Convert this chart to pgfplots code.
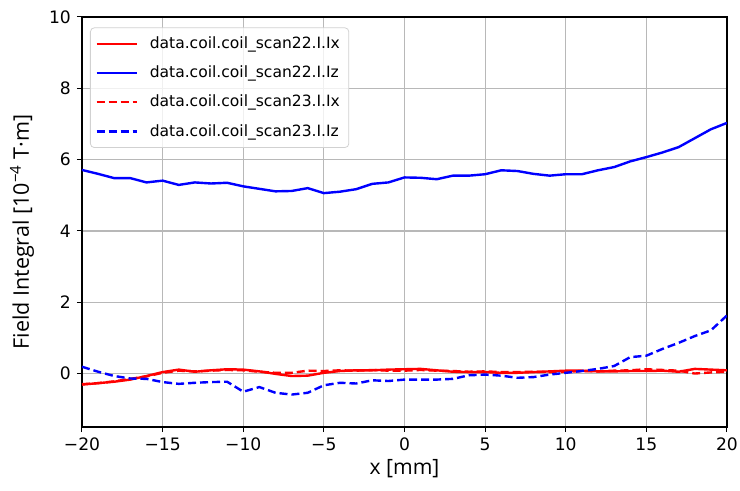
\documentclass[border=0pt]{standalone}
\usepackage{fontspec}
\setmainfont{DejaVu Sans}
\newfontfamily\labelfont{Open Sans}
\usepackage{pgfplots}
\pgfplotsset{compat=1.18}
\begin{document}
\fontsize{8.6}{10}\selectfont
\begin{tikzpicture}
\begin{axis}[
  scale only axis,
  width=322.5bp, height=205bp,
  xmin=-20, xmax=20, ymin=-1.5, ymax=10,
  xtick={-20,-15,...,20},
  xticklabels={−20,−15,−10,−5,0,5,10,15,20},
  ytick={0,2,4,6,8,10},
  /pgf/number format/assume math mode=true,
  tick label style={font=\fontsize{8.6}{10}\selectfont},
  tick align=outside,
  major tick length=2.5bp,
  tick style={black, line width=0.5bp},
  xtick pos=bottom, ytick pos=left,
  grid=major,
  grid style={black!28, line width=0.6bp},
  axis line style={line width=0.6bp},
  xlabel={x [mm]},
  ylabel={Field Integral [10\textsuperscript{−4} T·m]},
  every axis x label/.style={at={(rel axis cs:0.5,0)}, anchor=north, yshift=-13bp, font=\labelfont\fontsize{10.6}{12}\selectfont},
  every axis y label/.style={at={(rel axis cs:0,0.5)}, anchor=center, rotate=90, yshift=30bp, xshift=-5bp, font=\labelfont\fontsize{10.8}{12}\selectfont},
  legend cell align=left,
  legend style={at={(rel axis cs:0,1)}, anchor=north west, xshift=4bp, yshift=-5.2bp,
    draw=black!18, rounded corners=2bp, fill=white, fill opacity=0.8, text opacity=1,
    font=\fontsize{7.8}{9.5}\selectfont, row sep=3.4bp, inner sep=2.5bp},
  legend image code/.code={\draw[#1] (0cm,0cm) -- (20bp,0cm); \path (24bp,0cm);},
]
\addplot[red, line width=1.2bp] coordinates {
(-20,-0.31)(-19,-0.27)(-18,-0.23)(-17,-0.17)(-16,-0.07)(-15,0.04)(-14,0.11)(-13,0.05)(-12,0.09)(-11,0.12)
(-10,0.11)(-9,0.06)(-8,-0.01)(-7,-0.07)(-6,-0.06)(-5,0.02)(-4,0.07)(-3,0.09)(-2,0.09)(-1,0.11)
(0,0.12)(1,0.13)(2,0.09)(3,0.05)(4,0.04)(5,0.04)(6,0.02)(7,0.02)(8,0.04)(9,0.06)
(10,0.08)(11,0.08)(12,0.06)(13,0.06)(14,0.07)(15,0.07)(16,0.08)(17,0.05)(18,0.13)(19,0.11)(20,0.09)};
\addlegendentry{data.coil.coil\_scan22.I.Ix}
\addplot[blue, line width=1.2bp] coordinates {
(-20,5.71)(-19,5.60)(-18,5.48)(-17,5.48)(-16,5.36)(-15,5.41)(-14,5.29)(-13,5.36)(-12,5.33)(-11,5.35)
(-10,5.25)(-9,5.18)(-8,5.11)(-7,5.12)(-6,5.20)(-5,5.06)(-4,5.10)(-3,5.17)(-2,5.32)(-1,5.36)
(0,5.50)(1,5.49)(2,5.45)(3,5.55)(4,5.55)(5,5.59)(6,5.70)(7,5.68)(8,5.60)(9,5.55)
(10,5.59)(11,5.59)(12,5.70)(13,5.79)(14,5.95)(15,6.07)(16,6.20)(17,6.35)(18,6.60)(19,6.85)(20,7.03)};
\addlegendentry{data.coil.coil\_scan22.I.Iz}
\addplot[red, line width=1.2bp, dash pattern=on 4bp off 2bp] coordinates {
(-20,-0.30)(-19,-0.27)(-18,-0.22)(-17,-0.15)(-16,-0.08)(-15,0.02)(-14,0.08)(-13,0.06)(-12,0.08)(-11,0.10)
(-10,0.09)(-9,0.05)(-8,0.02)(-7,0.02)(-6,0.08)(-5,0.07)(-4,0.09)(-3,0.08)(-2,0.10)(-1,0.08)
(0,0.08)(1,0.10)(2,0.08)(3,0.07)(4,0.05)(5,0.06)(6,0.04)(7,0.04)(8,0.05)(9,0.04)
(10,0.05)(11,0.07)(12,0.06)(13,0.08)(14,0.09)(15,0.12)(16,0.10)(17,0.08)(18,0.00)(19,0.03)(20,0.05)};
\addlegendentry{data.coil.coil\_scan23.I.Ix}
\addplot[blue, line width=1.2bp, dash pattern=on 4bp off 2bp] coordinates {
(-20,0.19)(-19,0.05)(-18,-0.07)(-17,-0.14)(-16,-0.15)(-15,-0.24)(-14,-0.29)(-13,-0.26)(-12,-0.24)(-11,-0.23)
(-10,-0.51)(-9,-0.38)(-8,-0.54)(-7,-0.59)(-6,-0.54)(-5,-0.33)(-4,-0.26)(-3,-0.28)(-2,-0.19)(-1,-0.21)
(0,-0.17)(1,-0.17)(2,-0.17)(3,-0.15)(4,-0.05)(5,-0.03)(6,-0.06)(7,-0.12)(8,-0.10)(9,-0.03)
(10,0.02)(11,0.07)(12,0.13)(13,0.21)(14,0.46)(15,0.50)(16,0.69)(17,0.86)(18,1.05)(19,1.21)(20,1.63)};
\addlegendentry{data.coil.coil\_scan23.I.Iz}
\end{axis}
\pgfresetboundingbox
\useasboundingbox ([xshift=-41bp,yshift=-32bp]current axis.south west) rectangle ([xshift=6.5bp,yshift=8.5bp]current axis.north east);
\end{tikzpicture}
\end{document}
